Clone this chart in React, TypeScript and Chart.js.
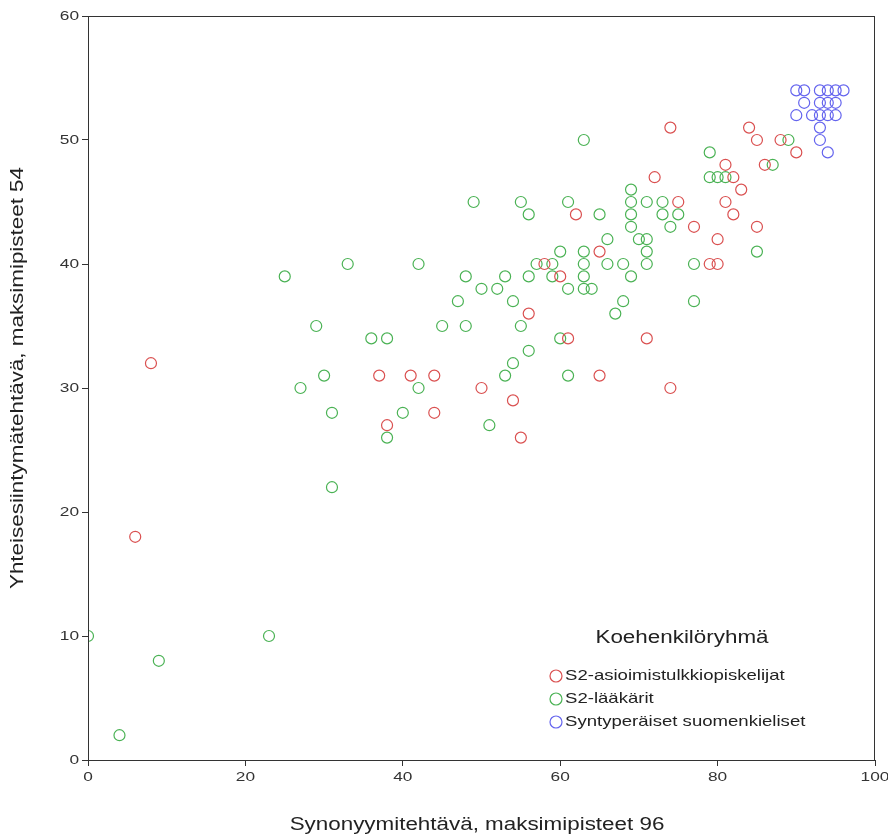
import React, { useEffect, useRef } from "react";
import { Chart, registerables } from "chart.js";

Chart.register(...registerables);

const seriesNames = ["S2-asioimistulkkiopiskelijat", "S2-lääkärit", "Syntyperäiset suomenkieliset"];
const legendTitle = "Koehenkilöryhmä";
const xTitle = "Synonyymitehtävä, maksimipisteet 96";
const yTitle = "Yhteisesiintymätehtävä, maksimipisteet 54";

const redX = [8, 6, 37, 41, 44, 44, 38, 50, 54, 55, 56, 58, 60, 61, 62, 65, 65, 71, 72, 74, 74, 75, 77, 79, 80, 80, 81, 82, 83, 81, 82, 84, 85, 85, 86, 88, 90];
const redY = [32, 18, 31, 31, 31, 28, 27, 30, 29, 26, 36, 40, 39, 34, 44, 41, 31, 34, 47, 51, 30, 45, 43, 40, 40, 42, 48, 47, 46, 45, 44, 51, 50, 43, 48, 50, 49];

const greenX = [0, 4, 9, 23, 25, 27, 29, 30, 31, 31, 33, 36, 38, 38, 40, 42, 42, 45, 47, 48, 48, 49, 50, 51, 52, 53, 53, 54, 54, 55, 55, 56, 56, 56, 57, 59, 59, 60, 60, 61, 61, 61, 63, 63, 63, 63, 63, 64, 65, 66, 66, 67, 68, 68, 69, 69, 69, 69, 69, 70, 71, 71, 71, 71, 73, 73, 74, 75, 77, 77, 79, 79, 80, 81, 85, 87, 89];
const greenY = [10, 2, 8, 10, 39, 30, 35, 31, 28, 22, 40, 34, 34, 26, 28, 40, 30, 35, 37, 39, 35, 45, 38, 27, 38, 39, 31, 37, 32, 45, 35, 44, 39, 33, 40, 40, 39, 41, 34, 45, 38, 31, 50, 41, 40, 39, 38, 38, 44, 42, 40, 36, 40, 37, 46, 45, 44, 43, 39, 42, 45, 42, 41, 40, 45, 44, 43, 44, 40, 37, 49, 47, 47, 47, 41, 48, 50];

const blueX = [90, 91, 93, 94, 95, 96, 91, 93, 94, 95, 90, 92, 93, 94, 95, 93, 93, 94];
const blueY = [54, 54, 54, 54, 54, 54, 53, 53, 53, 53, 52, 52, 52, 52, 52, 51, 50, 49];

const xTicks = [0, 20, 40, 60, 80, 100];
const yTicks = [0, 10, 20, 30, 40, 50, 60];

const colors = ["rgb(218,80,80)", "rgb(74,178,84)", "rgb(100,100,238)"];
const FONT = "'Liberation Sans', Arial, sans-serif";
const STRETCH = 1.28;

const toPts = (xs: number[], ys: number[]) => xs.map((x, i) => ({ x, y: ys[i] }));

function drawText(ctx: any, text: string, x: number, y: number, size: number, align: string, rot = 0) {
  ctx.save();
  ctx.translate(x, y);
  if (rot) ctx.rotate(rot);
  ctx.scale(STRETCH, 1);
  ctx.font = `${size}px ${FONT}`;
  ctx.textAlign = align;
  ctx.textBaseline = "middle";
  ctx.fillText(text, 0, 0);
  ctx.restore();
}

export default function App() {
  const ref = useRef<HTMLCanvasElement | null>(null);
  useEffect(() => {
    if (!ref.current) return;
    const textPlugin = {
      id: "customText",
      afterDraw(chart: any) {
        const ctx = chart.ctx;
        const { left, top, right, bottom } = chart.chartArea;
        const xs = chart.scales.x;
        const ys = chart.scales.y;
        ctx.save();
        ctx.strokeStyle = "#333";
        ctx.lineWidth = 1;
        ctx.strokeRect(left + 0.5, top + 0.5, right - left - 1, bottom - top);
        ctx.fillStyle = "#333";
        xTicks.forEach((v) => drawText(ctx, String(v), xs.getPixelForValue(v), bottom + 17, 13.5, "center"));
        yTicks.forEach((v) => drawText(ctx, String(v), left - 9, ys.getPixelForValue(v), 13.5, "right"));
        ctx.fillStyle = "#222";
        drawText(ctx, xTitle, 477, 825, 17.5, "center");
        drawText(ctx, yTitle, 18, 378, 17.5, "center", -Math.PI / 2);
        drawText(ctx, legendTitle, 682, 638, 17.5, "center");
        const rows = [676, 699, 722];
        seriesNames.forEach((n, i) => {
          ctx.beginPath();
          ctx.strokeStyle = colors[i];
          ctx.lineWidth = 1.2;
          ctx.arc(556, rows[i], 6, 0, Math.PI * 2);
          ctx.stroke();
          ctx.fillStyle = "#222";
          drawText(ctx, n, 565, rows[i], 14.5, "left");
        });
        ctx.restore();
      },
    };
    const chart = new Chart(ref.current, {
      type: "scatter",
      data: {
        datasets: [
          { label: seriesNames[0], data: toPts(redX, redY), borderColor: colors[0], backgroundColor: "transparent", pointRadius: 5.5, pointBorderWidth: 1.2 },
          { label: seriesNames[1], data: toPts(greenX, greenY), borderColor: colors[1], backgroundColor: "transparent", pointRadius: 5.5, pointBorderWidth: 1.2 },
          { label: seriesNames[2], data: toPts(blueX, blueY), borderColor: colors[2], backgroundColor: "transparent", pointRadius: 5.5, pointBorderWidth: 1.2 },
        ],
      },
      options: {
        animation: false,
        responsive: false,
        maintainAspectRatio: false,
        layout: { padding: { left: 0, top: 16, right: 13, bottom: 0 } },
        plugins: { legend: { display: false }, tooltip: { enabled: false } },
        scales: {
          x: {
            type: "linear",
            min: 0,
            max: 100,
            afterBuildTicks: (s: any) => { s.ticks = xTicks.map((v) => ({ value: v })); },
            afterFit: (s: any) => { s.height = 77; },
            grid: { drawOnChartArea: false, drawTicks: true, tickLength: 6, color: "#333" },
            border: { display: true, color: "#333", width: 1 },
            ticks: { display: false },
            title: { display: false },
          },
          y: {
            type: "linear",
            min: 0,
            max: 60,
            afterBuildTicks: (s: any) => { s.ticks = yTicks.map((v) => ({ value: v })); },
            afterFit: (s: any) => { s.width = 88; },
            grid: { drawOnChartArea: false, drawTicks: true, tickLength: 6, color: "#333" },
            border: { display: true, color: "#333", width: 1 },
            ticks: { display: false },
            title: { display: false },
          },
        },
      },
      plugins: [textPlugin],
    } as any);
    return () => chart.destroy();
  }, []);
  return (
    <div style={{ position: "absolute", left: 0, top: 0, width: 888, height: 837, background: "#fff" }}>
      <canvas ref={ref} width={888} height={837} style={{ width: 888, height: 837, display: "block" }} />
    </div>
  );
}
